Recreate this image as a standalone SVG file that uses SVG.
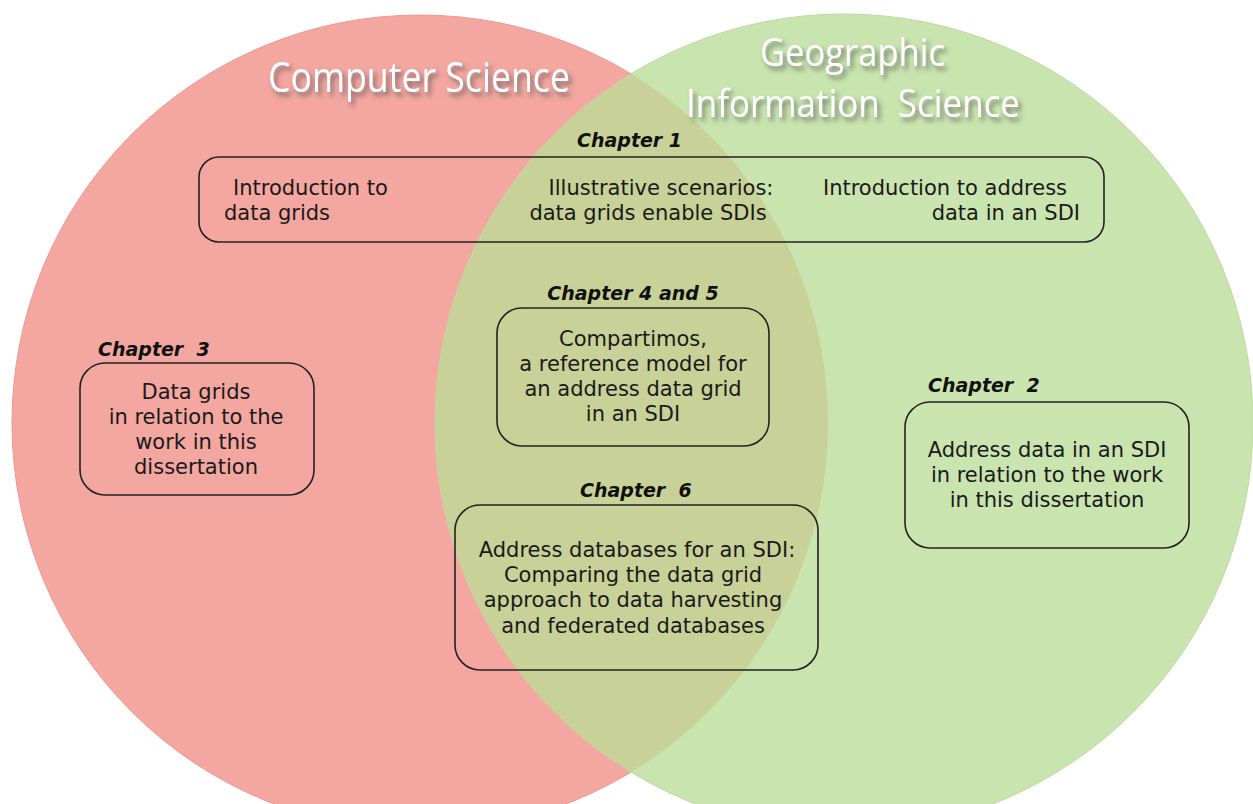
<svg xmlns="http://www.w3.org/2000/svg" width="1253" height="804" viewBox="0 0 1253 804">
<style>
.title{font-family:"Open Sans","Liberation Sans",sans-serif;font-size:42px;fill:#ffffff;filter:url(#sh)}
.gis{font-size:39px}
.chap{font-family:"DejaVu Sans",sans-serif;font-weight:bold;font-style:italic;font-size:19px;fill:#111}
.body{font-family:"DejaVu Sans",sans-serif;font-size:21px;fill:#1a1a1a}
.box{fill:none;stroke:#222;stroke-width:1.6}
</style>
<defs>
<filter id="sh" x="-10%" y="-30%" width="130%" height="180%">
<feDropShadow dx="3" dy="4" stdDeviation="2.5" flood-color="#555" flood-opacity="0.75"/>
</filter>
<clipPath id="redclip"><circle cx="420" cy="423" r="408"/></clipPath>
</defs>
<rect width="1253" height="804" fill="#ffffff"/>
<g id="circles">
<circle cx="420" cy="423" r="408" fill="#f4a6a0" stroke="#f09890" stroke-width="1"/>
<circle cx="844" cy="423" r="409" fill="#c9e4af" stroke="#bedaa2" stroke-width="1"/>
<circle cx="844" cy="423" r="409" fill="#c8d197" clip-path="url(#redclip)"/>
</g>
<g id="titles">
<text class="title" x="268" y="92" textLength="302" lengthAdjust="spacingAndGlyphs">Computer Science</text>
<text class="title gis" x="760" y="66" textLength="185" lengthAdjust="spacingAndGlyphs">Geographic</text>
<text class="title gis" x="686" y="117" textLength="334" lengthAdjust="spacingAndGlyphs" xml:space="preserve">Information  Science</text>
</g>
<g id="connectors"></g>
<g id="chapter1">
<text class="chap" x="577" y="147">Chapter 1</text>
<rect class="box" x="199" y="157" width="905" height="85" rx="20"/>
<text class="body" x="233" y="195">Introduction to</text>
<text class="body" x="224" y="220">data grids</text>
<text class="body" x="661" y="195" text-anchor="middle">Illustrative scenarios:</text>
<text class="body" x="648" y="220" text-anchor="middle">data grids enable SDIs</text>
<text class="body" x="945" y="195" text-anchor="middle">Introduction to address</text>
<text class="body" x="1080" y="220" text-anchor="end">data in an SDI</text>
</g>
<g id="chapter45">
<text class="chap" x="633" y="300" text-anchor="middle">Chapter 4 and 5</text>
<rect class="box" x="497" y="308" width="272" height="138" rx="25"/>
<text class="body" x="633" y="346" text-anchor="middle">Compartimos,</text>
<text class="body" x="633" y="371" text-anchor="middle">a reference model for</text>
<text class="body" x="633" y="396" text-anchor="middle">an address data grid</text>
<text class="body" x="633" y="421" text-anchor="middle">in an SDI</text>
</g>
<g id="chapter3">
<text class="chap" x="98" y="356" xml:space="preserve">Chapter  3</text>
<rect class="box" x="80" y="363" width="234" height="132" rx="25"/>
<text class="body" x="196" y="399" text-anchor="middle">Data grids</text>
<text class="body" x="196" y="424" text-anchor="middle">in relation to the</text>
<text class="body" x="196" y="449" text-anchor="middle">work in this</text>
<text class="body" x="196" y="474" text-anchor="middle">dissertation</text>
</g>
<g id="chapter2">
<text class="chap" x="928" y="392" xml:space="preserve">Chapter  2</text>
<rect class="box" x="905" y="402" width="284" height="146" rx="25"/>
<text class="body" x="1047" y="457" text-anchor="middle">Address data in an SDI</text>
<text class="body" x="1047" y="482" text-anchor="middle">in relation to the work</text>
<text class="body" x="1047" y="507" text-anchor="middle">in this dissertation</text>
</g>
<g id="chapter6">
<text class="chap" x="580" y="497" xml:space="preserve">Chapter  6</text>
<rect class="box" x="455" y="505" width="363" height="165" rx="25"/>
<text class="body" x="637" y="557" text-anchor="middle">Address databases for an SDI:</text>
<text class="body" x="633" y="582" text-anchor="middle">Comparing the data grid</text>
<text class="body" x="633" y="607" text-anchor="middle">approach to data harvesting</text>
<text class="body" x="633" y="633" text-anchor="middle">and federated databases</text>
</g>
</svg>
